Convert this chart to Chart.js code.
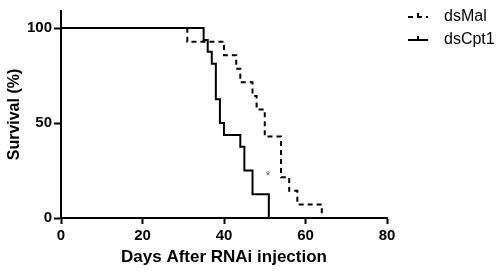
<!DOCTYPE html>
<html>
<head>
<meta charset="utf-8">
<script src="https://cdn.jsdelivr.net/npm/chart.js@4.4.1/dist/chart.umd.min.js"></script>
<style>
  html, body { margin: 0; padding: 0; background: #fff; }
  #wrap { width: 498px; height: 271px; }
</style>
</head>
<body>
<div id="wrap"><canvas id="survChart" width="498" height="271"></canvas></div>
<script>
// Kaplan-Meier steps (day, % surviving)
const malDays = [0, 31, 40, 43, 44, 47, 48, 50, 54, 56, 58, 64];
const malSurv = [100, 92.86, 85.71, 78.57, 71.43, 64.29, 57.14, 42.86, 21.43, 14.29, 7.14, 0];
const cptDays = [0, 35, 36, 37, 38, 39, 40, 44, 45, 47, 51];
const cptSurv = [100, 93.75, 87.5, 81.25, 62.5, 50, 43.75, 37.5, 25, 12.5, 0];

const xTicks = [0, 20, 40, 60, 80];
const yTicks = [0, 50, 100];
const sigMark = { day: 50.8, pct: 22, text: "*" };

const toPoints = (xs, ys) => xs.map((x, i) => ({ x: x, y: ys[i] }));

// legend drawn beside the plot, samples taken from the datasets
const sideLegend = {
  id: "sideLegend",
  afterDraw(chart) {
    const ctx = chart.ctx;
    chart.data.datasets.forEach((ds, i) => {
      const y = 17 + i * 23;
      ctx.save();
      ctx.strokeStyle = ds.borderColor;
      ctx.lineWidth = 2;
      ctx.setLineDash(ds.borderDash || []);
      ctx.beginPath();
      ctx.moveTo(408, y);
      ctx.lineTo(428, y);
      ctx.stroke();
      ctx.setLineDash([]);
      ctx.beginPath();
      ctx.moveTo(418, y - 4);
      ctx.lineTo(418, y);
      ctx.stroke();
      ctx.fillStyle = "#000";
      ctx.font = "16px 'Liberation Sans', Arial, sans-serif";
      ctx.textBaseline = "middle";
      ctx.fillText(ds.label, 444, y);
      ctx.restore();
    });
  }
};

const sigStar = {
  id: "sigStar",
  afterDatasetsDraw(chart) {
    const { ctx, scales } = chart;
    ctx.save();
    ctx.fillStyle = "#666";
    ctx.font = "12px 'Liberation Sans', Arial, sans-serif";
    ctx.textAlign = "center";
    ctx.textBaseline = "middle";
    ctx.fillText(sigMark.text, scales.x.getPixelForValue(sigMark.day), scales.y.getPixelForValue(sigMark.pct));
    ctx.restore();
  }
};

const tickFont = { family: "'Liberation Sans', Arial, sans-serif", size: 15, weight: "bold" };

new Chart(document.getElementById("survChart").getContext("2d"), {
  type: "line",
  data: {
    datasets: [
      {
        label: "dsMal",
        data: toPoints(malDays, malSurv),
        borderColor: "#000",
        borderWidth: 2,
        borderDash: [5, 4],
        stepped: "before",
        pointRadius: 0,
        fill: false
      },
      {
        label: "dsCpt1",
        data: toPoints(cptDays, cptSurv),
        borderColor: "#000",
        borderWidth: 2,
        stepped: "before",
        pointRadius: 0,
        fill: false
      }
    ]
  },
  options: {
    responsive: false,
    animation: false,
    layout: { padding: { left: 0, right: 111, top: 3, bottom: 0 } },
    plugins: {
      legend: { display: false },
      tooltip: { enabled: false }
    },
    scales: {
      x: {
        type: "linear",
        min: 0,
        max: 80,
        afterBuildTicks: s => { s.ticks = xTicks.map(v => ({ value: v })); },
        afterFit: s => { s.height = 53; },
        grid: { drawOnChartArea: false, drawTicks: true, tickLength: 6, tickColor: "#000", tickWidth: 2 },
        border: { color: "#000", width: 2 },
        ticks: { color: "#000", font: tickFont, padding: 3, maxRotation: 0 },
        title: {
          display: true,
          text: "Days After RNAi injection",
          color: "#000",
          font: { family: "'Liberation Sans', Arial, sans-serif", size: 17, weight: "bold", lineHeight: 1.2 },
          padding: { top: 0, bottom: 3 }
        }
      },
      y: {
        min: 0,
        max: 109,
        afterBuildTicks: s => { s.ticks = yTicks.map(v => ({ value: v })); },
        afterFit: s => { s.width = 61; },
        grid: { drawOnChartArea: false, drawTicks: true, tickLength: 7, tickColor: "#000", tickWidth: 2 },
        border: { color: "#000", width: 2 },
        ticks: { color: "#000", font: tickFont, padding: 2 },
        title: {
          display: true,
          text: "Survival (%)",
          color: "#000",
          font: { family: "'Liberation Sans', Arial, sans-serif", size: 16, weight: "bold", lineHeight: 1.2 },
          padding: { top: 5, bottom: 0 }
        }
      }
    }
  },
  plugins: [sideLegend, sigStar]
});
</script>
</body>
</html>
